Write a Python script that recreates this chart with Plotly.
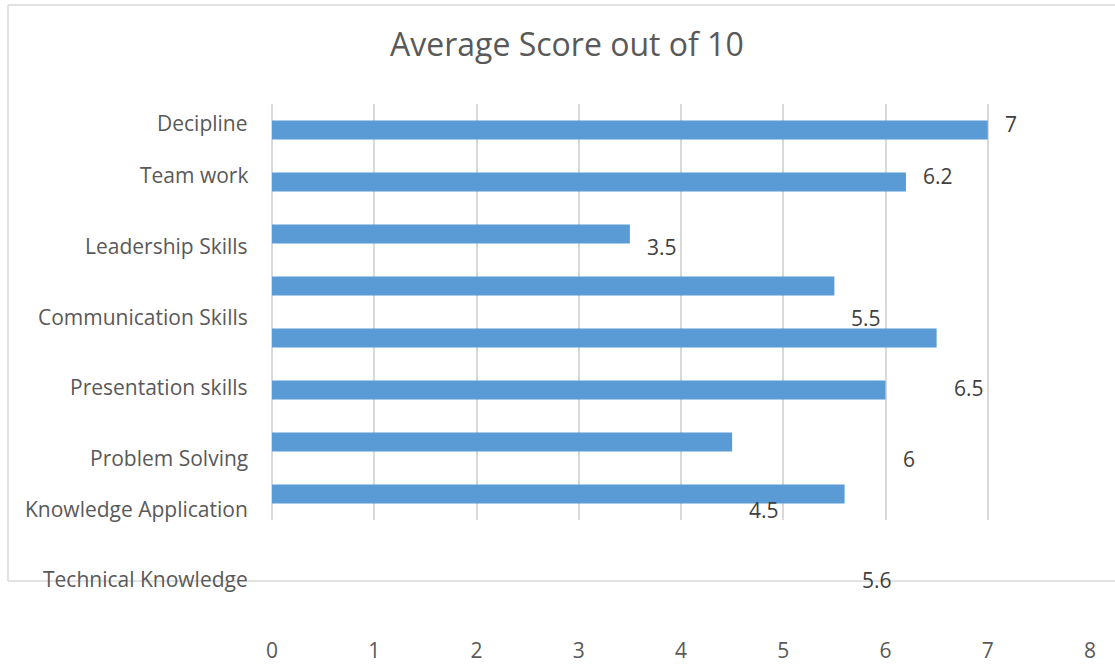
import plotly.graph_objects as go

# ---- data ----
categories = ["Decipline", "Team work", "Leadership Skills", "Communication Skills",
              "Presentation skills", "Problem Solving", "Knowledge Application",
              "Technical Knowledge"]
scores = [7, 6.2, 3.5, 5.5, 6.5, 6, 4.5, 5.6]
# where the (misplaced) text rows sit, in category-index units of the bar axis
label_rows = [-0.14, 0.86, 2.23, 3.6, 4.94, 6.31, 7.29, 8.63]
x_ticks = [0, 1, 2, 3, 4, 5, 6, 7, 8]
title_text = "Average Score out of 10"

W, H = 1115, 665
FONT = "Open Sans"
BAR = "#5b9bd5"
GRID = "#d9d9d9"

fig = go.Figure()
fig.add_trace(go.Bar(
    x=scores, y=categories, orientation="h",
    marker=dict(color=BAR, line=dict(width=0)),
    hoverinfo="x+y",
))
# invisible helper trace so the label axes (x2/y2) exist
fig.add_trace(go.Scatter(
    x=[0] * len(label_rows), y=label_rows, xaxis="x2", yaxis="y2", mode="markers",
    marker=dict(opacity=0), hoverinfo="skip", showlegend=False,
))

annotations = []
for cat, row in zip(categories, label_rows):
    annotations.append(dict(
        x=0, y=row, xref="x2", yref="y2", text=cat, showarrow=False,
        xanchor="right", yanchor="middle", xshift=-22,
        font=dict(family=FONT, size=21, color="#595959"),
    ))
for val, row in zip(scores, label_rows):
    annotations.append(dict(
        x=val, y=row, xref="x2", yref="y2", text=f"{val:g}", showarrow=False,
        xanchor="left", yanchor="middle", xshift=15, yshift=-1,
        font=dict(family=FONT, size=21, color="#404040"),
    ))
annotations.append(dict(
    x=567 / W, y=1 - 44 / H, xref="paper", yref="paper", text=title_text,
    showarrow=False, xanchor="center", yanchor="middle",
    font=dict(family=FONT, size=32, color="#595959"),
))

shapes = [
    dict(type="line", xref="paper", yref="paper", x0=8 / W, x1=1, y0=1 - 5 / H, y1=1 - 5 / H,
         line=dict(color=GRID, width=1.5), layer="below"),
    dict(type="line", xref="paper", yref="paper", x0=8 / W, x1=8 / W, y0=1 - 5 / H, y1=1 - 581 / H,
         line=dict(color=GRID, width=1.5), layer="below"),
    dict(type="line", xref="paper", yref="paper", x0=8 / W, x1=1, y0=1 - 581 / H, y1=1 - 581 / H,
         line=dict(color=GRID, width=1.5), layer="below"),
]

fig.update_layout(
    width=W, height=H,
    margin=dict(l=0, r=0, t=0, b=0, pad=0),
    paper_bgcolor="white", plot_bgcolor="rgba(0,0,0,0)",
    showlegend=False,
    bargap=0.635,
    annotations=annotations,
    shapes=shapes,
    xaxis=dict(
        domain=[272 / W, 1090 / W], range=[0, 8], tickvals=x_ticks,
        showgrid=True, gridcolor=GRID, gridwidth=1.5,
        zeroline=True, zerolinecolor=GRID, zerolinewidth=1.5,
        showline=False, ticks="", automargin=False,
        tickfont=dict(family=FONT, size=21, color="#595959"),
        ticklabelstandoff=116,
    ),
    yaxis=dict(
        domain=[1 - 520 / H, 1 - 104 / H],
        type="category", categoryorder="array", categoryarray=categories,
        range=[7.5, -0.5], showticklabels=False, showgrid=False,
        zeroline=False, showline=False, ticks="", automargin=False,
    ),
    xaxis2=dict(
        domain=[272 / W, 1090 / W], range=[0, 8], anchor="y2",
        visible=False, showgrid=False, zeroline=False, automargin=False,
    ),
    yaxis2=dict(
        domain=[1 - 624 / H, 1 - 104 / H], anchor="x2",
        range=[9.5, -0.5], visible=False, showgrid=False, zeroline=False,
        automargin=False,
    ),
)

fig.write_html(
    "out.html",
    config={"displayModeBar": False},
    post_script="document.body.style.margin='0';document.body.style.overflow='hidden';",
)
